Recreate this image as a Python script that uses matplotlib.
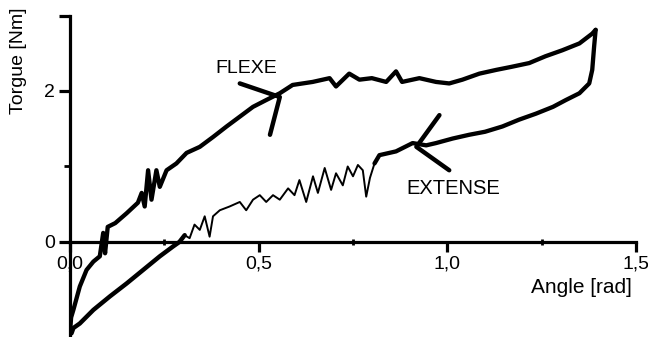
import matplotlib.pyplot as plt
from matplotlib.ticker import FixedLocator

plt.rcParams['font.family'] = ['Liberation Sans', 'DejaVu Sans']

# loading branch (FLEXE), angle [rad] / torque [Nm]
flexe_angle = [0.000, 0.003, 0.009, 0.026, 0.044, 0.062, 0.079, 0.088, 0.093, 0.100,
               0.120, 0.150, 0.180, 0.190, 0.198, 0.207, 0.216, 0.229, 0.238, 0.256,
               0.282, 0.309, 0.344, 0.379, 0.415, 0.450, 0.485, 0.520, 0.556, 0.590,
               0.643, 0.688, 0.705, 0.740, 0.767, 0.800, 0.838, 0.864, 0.880, 0.926,
               0.970, 1.005, 1.040, 1.085, 1.130, 1.170, 1.217, 1.260, 1.305, 1.350,
               1.384, 1.393]
flexe_torque = [-1.20, -1.00, -0.90, -0.59, -0.37, -0.26, -0.19, 0.12, -0.15, 0.20,
                0.25, 0.38, 0.52, 0.65, 0.47, 0.95, 0.56, 0.95, 0.73, 0.95,
                1.04, 1.18, 1.26, 1.39, 1.53, 1.66, 1.79, 1.88, 1.97, 2.08,
                2.12, 2.17, 2.06, 2.23, 2.15, 2.17, 2.12, 2.26, 2.12, 2.17,
                2.12, 2.10, 2.15, 2.23, 2.28, 2.32, 2.37, 2.46, 2.54, 2.63,
                2.76, 2.81]

# unloading branch (EXTENSE), split where the trace gets thin
ext_hi_angle = [1.393, 1.389, 1.384, 1.376, 1.350, 1.314, 1.280, 1.235, 1.190, 1.146,
                1.100, 1.058, 1.014, 0.970, 0.944, 0.908, 0.864, 0.820, 0.807]
ext_hi_torque = [2.81, 2.59, 2.28, 2.10, 1.97, 1.88, 1.79, 1.70, 1.62, 1.53,
                 1.46, 1.42, 1.37, 1.31, 1.28, 1.31, 1.20, 1.15, 1.04]

ext_mid_angle = [0.807, 0.795, 0.785, 0.776, 0.763, 0.750, 0.736, 0.723, 0.705, 0.692,
                 0.675, 0.657, 0.644, 0.626, 0.608, 0.595, 0.578, 0.556, 0.538, 0.520,
                 0.503, 0.485, 0.467, 0.450, 0.423, 0.397, 0.379, 0.370, 0.357, 0.344,
                 0.330, 0.317, 0.304]
ext_mid_torque = [1.04, 0.85, 0.60, 0.95, 1.02, 0.87, 1.00, 0.75, 0.91, 0.69,
                  0.98, 0.65, 0.87, 0.53, 0.82, 0.62, 0.71, 0.56, 0.62, 0.53,
                  0.62, 0.56, 0.42, 0.53, 0.47, 0.42, 0.34, 0.07, 0.34, 0.16,
                  0.23, 0.05, 0.09]

ext_lo_angle = [0.304, 0.290, 0.273, 0.238, 0.194, 0.150, 0.106, 0.062, 0.026, 0.009, 0.004, 0.000]
ext_lo_torque = [0.09, 0.00, -0.06, -0.19, -0.37, -0.55, -0.72, -0.90, -1.08, -1.14, -1.21, -1.20]

# hand-drawn arrow heads
flexe_arrow_a = [0.45, 0.556, 0.53]
flexe_arrow_t = [2.10, 1.92, 1.42]
ext_arrow_a = [0.979, 0.918, 1.005]
ext_arrow_t = [1.68, 1.26, 0.95]

x_ticks = [0.0, 0.5, 1.0, 1.5]
x_labels = ['0,0', '0,5', '1,0', '1,5']
x_minor = [0.25, 0.75, 1.25]
y_ticks = [0, 2, 3]
y_labels = ['0', '2', '']
y_minor = [1]

fig = plt.figure(figsize=(6.48, 3.37), dpi=100)
ax = fig.add_axes([0.108, 0.002, 0.8735, 0.952])

style = dict(color='black', solid_joinstyle='round', solid_capstyle='round')
ax.plot(flexe_angle, flexe_torque, lw=3.1, **style)
ax.plot(ext_hi_angle, ext_hi_torque, lw=3.1, **style)
ax.plot(ext_mid_angle, ext_mid_torque, lw=1.4, **style)
ax.plot(ext_lo_angle, ext_lo_torque, lw=3.2, **style)
ax.plot(flexe_arrow_a, flexe_arrow_t, lw=3.2, **style)
ax.plot(ext_arrow_a, ext_arrow_t, lw=3.2, **style)

ax.text(0.468, 2.30, 'FLEXE', fontsize=14, ha='center', va='center')
ax.text(1.016, 0.71, 'EXTENSE', fontsize=14.5, ha='center', va='center')

ax.set_xlim(0, 1.5)
ax.set_ylim(-1.25, 3.0)
for s in ['top', 'right']:
    ax.spines[s].set_visible(False)
ax.spines['bottom'].set_position(('data', 0))
ax.spines['left'].set_linewidth(2.3)
ax.spines['bottom'].set_linewidth(2.3)

ax.set_xticks(x_ticks)
ax.set_xticklabels(x_labels)
ax.xaxis.set_minor_locator(FixedLocator(x_minor))
ax.set_yticks(y_ticks)
ax.set_yticklabels(y_labels)
ax.yaxis.set_minor_locator(FixedLocator(y_minor))
ax.tick_params(axis='x', which='major', direction='out', length=7, width=2.3, pad=3, labelsize=14)
ax.tick_params(axis='x', which='minor', direction='inout', length=5, width=2.0)
ax.tick_params(axis='y', which='major', direction='out', length=8, width=2.3, pad=3, labelsize=14)
ax.tick_params(axis='y', which='minor', direction='out', length=4, width=2.0)

fig.text(0.897, 0.148, 'Angle [rad]', fontsize=15, ha='center', va='center')
fig.text(0.028, 0.819, 'Torgue [Nm]', fontsize=14, ha='center', va='center', rotation=90)

fig.savefig('out.png', dpi=100)
